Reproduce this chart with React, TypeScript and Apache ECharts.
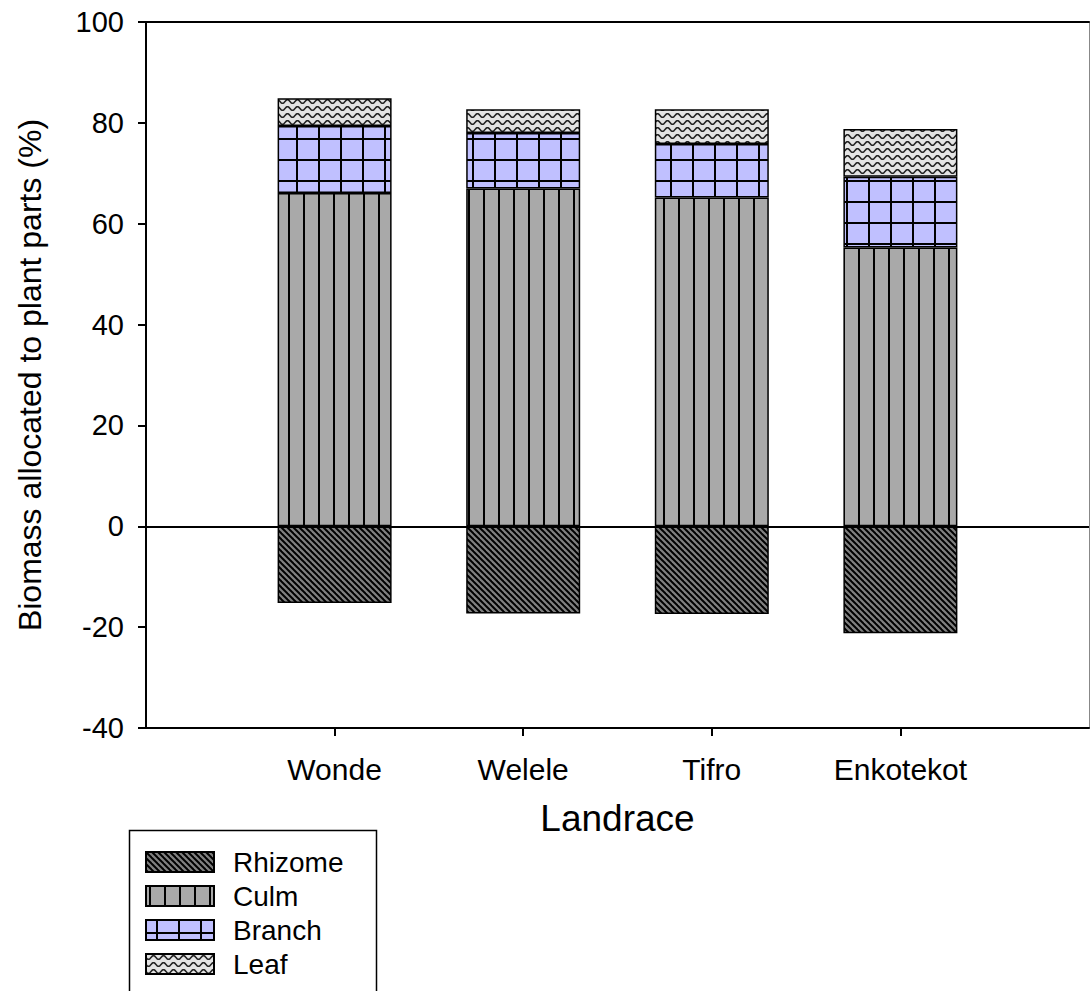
import React, { useEffect, useRef } from "react";
import * as echarts from "echarts";

const categories = ["Wonde", "Welele", "Tifro", "Enkotekot"];
const rhizome = [-15.2, -17.3, -17.4, -21.2];
const culm = [66.1, 67.0, 65.2, 55.3];
const branch = [13.3, 11.0, 10.6, 14.0];
const leaf = [5.5, 4.7, 6.9, 9.5];
const seriesNames = ["Rhizome", "Culm", "Branch", "Leaf"];
const yTicks = { min: -40, max: 100, interval: 20 };

const FONT = "Liberation Sans, Arial, sans-serif";

function makeTile(w: number, h: number, draw: (ctx: CanvasRenderingContext2D) => void) {
  const c = document.createElement("canvas");
  c.width = w;
  c.height = h;
  const ctx = c.getContext("2d")!;
  draw(ctx);
  return { image: c.toDataURL(), repeat: "repeat", imageWidth: w, imageHeight: h } as any;
}

function patterns() {
  const rh = makeTile(6, 6, (ctx) => {
    ctx.fillStyle = "#808080";
    ctx.fillRect(0, 0, 6, 6);
    ctx.strokeStyle = "#000";
    ctx.lineWidth = 2;
    for (const o of [-6, 0, 6]) {
      ctx.beginPath();
      ctx.moveTo(o - 1, -1);
      ctx.lineTo(o + 7, 7);
      ctx.stroke();
    }
  });
  const cu = makeTile(15, 4, (ctx) => {
    ctx.fillStyle = "#A9A9A9";
    ctx.fillRect(0, 0, 15, 4);
    ctx.fillStyle = "#000";
    ctx.fillRect(3, 0, 2, 4);
  });
  const br = makeTile(22, 21, (ctx) => {
    ctx.fillStyle = "#C0C0FF";
    ctx.fillRect(0, 0, 22, 21);
    ctx.fillStyle = "#000";
    ctx.fillRect(10, 0, 2, 21);
    ctx.fillRect(0, 12, 22, 2);
  });
  const lf = makeTile(10, 7, (ctx) => {
    ctx.fillStyle = "#E4E4E4";
    ctx.fillRect(0, 0, 10, 7);
    ctx.strokeStyle = "#222";
    ctx.lineWidth = 1.6;
    ctx.beginPath();
    for (let x = -1; x <= 11; x += 0.5) {
      const y = 3.5 + 1.8 * Math.sin((x / 10) * Math.PI * 2);
      if (x === -1) ctx.moveTo(x, y);
      else ctx.lineTo(x, y);
    }
    ctx.stroke();
  });
  return [rh, cu, br, lf];
}

export default function App() {
  const ref = useRef<HTMLDivElement>(null);
  useEffect(() => {
    if (!ref.current) return;
    const chart = echarts.init(ref.current, undefined, { renderer: "svg" });
    const pats = patterns();
    const xData = ["", ...categories, ""];
    const pad = (arr: number[]) => ["-", ...arr, "-"];
    const values = [rhizome, culm, branch, leaf];
    const series: any[] = seriesNames.map((name, i) => ({
      name,
      type: "bar",
      stack: "total",
      barWidth: 114,
      data: pad(values[i]),
      itemStyle: { color: pats[i], borderColor: "#000", borderWidth: 1.5 },
      emphasis: { disabled: true },
    }));
    series[1].markLine = {
      silent: true,
      symbol: ["none", "none"],
      label: { show: false },
      lineStyle: { color: "#000", type: "solid", width: 2 },
      data: [{ yAxis: 0 }],
    };
    const option: any = {
      animation: false,
      grid: { left: 146, right: 1, top: 22, bottom: 263, containLabel: false },
      legend: {
        data: seriesNames,
        orient: "vertical",
        left: 145,
        top: 848,
        height: 140,
        padding: 0,
        itemWidth: 68,
        itemHeight: 20,
        itemGap: 6,
        icon: "rect",
        textStyle: { fontSize: 28, color: "#000", fontFamily: FONT, padding: [0, 0, 0, 14] },
      },
      xAxis: [
        {
          type: "category",
          data: xData,
          boundaryGap: false,
          position: "bottom",
          name: "Landrace",
          nameLocation: "middle",
          nameGap: 72,
          nameTextStyle: { fontSize: 37, color: "#000", fontFamily: FONT },
          axisLine: { onZero: false, lineStyle: { color: "#000", width: 2 } },
          axisTick: {
            show: true,
            length: 8,
            lineStyle: { color: "#000", width: 2 },
            interval: (idx: number) => idx > 0 && idx < xData.length - 1,
          },
          axisLabel: { fontSize: 30, color: "#000", fontFamily: FONT, margin: 26, interval: 0 },
          splitLine: { show: false },
        },
        {
          type: "category",
          data: xData,
          boundaryGap: false,
          position: "top",
          axisLine: { onZero: false, lineStyle: { color: "#000", width: 2 } },
          axisTick: { show: false },
          axisLabel: { show: false },
          splitLine: { show: false },
        },
      ],
      yAxis: [
        {
          type: "value",
          min: yTicks.min,
          max: yTicks.max,
          interval: yTicks.interval,
          name: "Biomass allocated to plant parts (%)",
          nameLocation: "middle",
          nameGap: 100,
          nameTextStyle: { fontSize: 32, color: "#000", fontFamily: FONT },
          axisLine: { show: true, onZero: false, lineStyle: { color: "#000", width: 2 } },
          axisTick: { show: true, length: 8, lineStyle: { color: "#000", width: 2 } },
          axisLabel: { fontSize: 29, color: "#000", fontFamily: FONT, margin: 22 },
          splitLine: { show: false },
        },
        {
          type: "value",
          min: yTicks.min,
          max: yTicks.max,
          interval: yTicks.interval,
          position: "right",
          axisLine: { show: true, onZero: false, lineStyle: { color: "#888", width: 1 } },
          axisTick: { show: false },
          axisLabel: { show: false },
          splitLine: { show: false },
        },
      ],
      series,
      graphic: [
        {
          type: "rect",
          shape: { x: 129.5, y: 830.5, width: 247, height: 170 },
          style: { fill: "none", stroke: "#000", lineWidth: 1.5 },
          silent: true,
        },
      ],
    };
    chart.setOption(option);
    return () => chart.dispose();
  }, []);
  return (
    <div
      ref={ref}
      style={{ position: "absolute", left: 0, top: 0, width: 1092, height: 991, background: "#fff" }}
    />
  );
}
